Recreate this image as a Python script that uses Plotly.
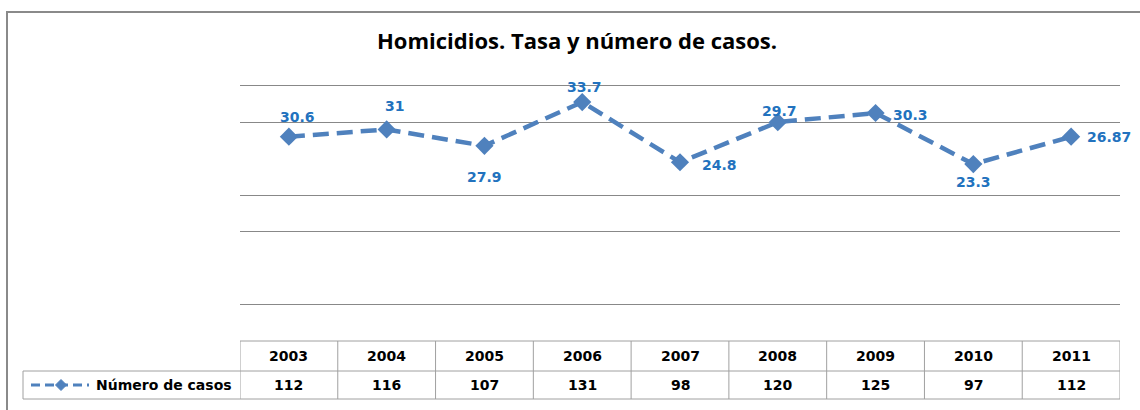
import plotly.graph_objects as go

years = ["2003", "2004", "2005", "2006", "2007", "2008", "2009", "2010", "2011"]
casos = [112, 116, 107, 131, 98, 120, 125, 97, 112]
tasa = ["30.6", "31", "27.9", "33.7", "24.8", "29.7", "30.3", "23.3", "26.87"]
grid_vals = [20, 60, 80, 120, 140]
series_name = "Número de casos"
title_text = "Homicidios. Tasa y número de casos."

# label offsets in pixels (style)
label_dx = [9, 8, 0, 2, 39, 2, 35, 0, 38]
label_dy = [20, 23, -31, 15, -3, 11, -2, -18, 0]

W, H = 1140, 410
L, R, T, B = 240, 20, 82, 69
PH = H - T - B
PW = W - L - R

def py(Y):
    return (H - B - Y) / PH

def px(X):
    return (X - L) / PW

LINE = "#4F81BD"
LBL = "#2272BE"
TBL = "#A0A0A0"
FONT = "DejaVu Sans"

xs = list(range(len(years)))

fig = go.Figure()
fig.add_trace(go.Scatter(
    x=xs, y=casos, mode="lines+markers", name=series_name,
    line=dict(color=LINE, width=4.5, dash="16px,8px"),
    marker=dict(symbol="diamond", size=14, color=LINE),
    showlegend=False, hoverinfo="skip",
))

annotations = []
for i, (v, t) in enumerate(zip(casos, tasa)):
    annotations.append(dict(
        x=i, y=v, xref="x", yref="y", text=t, showarrow=False,
        xshift=label_dx[i], yshift=label_dy[i],
        font=dict(family=FONT, size=14, color=LBL, weight="bold"),
    ))

# title
annotations.append(dict(
    x=px(577), y=py(40), xref="paper", yref="paper",
    text=title_text, showarrow=False,
    xanchor="center", yanchor="middle",
    font=dict(family="Open Sans", size=22, color="black", weight="bold"),
))

# table texts
y_top, y_mid, y_bot = 341, 371, 399
for i, yr in enumerate(years):
    annotations.append(dict(
        x=i, y=py((y_top + y_mid) / 2), xref="x", yref="paper", text=yr,
        showarrow=False, yanchor="middle",
        font=dict(family=FONT, size=14, color="black", weight="bold"),
    ))
    annotations.append(dict(
        x=i, y=py((y_mid + y_bot) / 2), xref="x", yref="paper", text=str(casos[i]),
        showarrow=False, yanchor="middle",
        font=dict(family=FONT, size=14, color="black", weight="bold"),
    ))
# legend text in table
annotations.append(dict(
    x=px(94), y=py((y_mid + y_bot) / 2), xref="paper", yref="paper",
    text=series_name, showarrow=False, xanchor="left", yanchor="middle",
    font=dict(family=FONT, size=14, color="black", weight="bold"),
))

shapes = []
# frame
shapes.append(dict(type="rect", xref="paper", yref="paper",
                   x0=px(7), x1=px(1150), y0=py(420), y1=py(12),
                   line=dict(color="#8A8A8A", width=2), fillcolor="rgba(0,0,0,0)"))
# table horizontal lines
shapes.append(dict(type="line", xref="x", yref="paper", x0=-0.5, x1=8.5,
                   y0=py(y_top), y1=py(y_top), line=dict(color=TBL, width=1)))
for yy in (y_mid, y_bot):
    shapes.append(dict(type="line", xref="paper", yref="paper", x0=px(23), x1=1.0,
                       y0=py(yy), y1=py(yy), line=dict(color=TBL, width=1)))
# table vertical lines
for k in range(len(years) + 1):
    shapes.append(dict(type="line", xref="x", yref="paper", x0=k - 0.5, x1=k - 0.5,
                       y0=py(y_top), y1=py(y_bot), line=dict(color=TBL, width=1)))
shapes.append(dict(type="line", xref="paper", yref="paper", x0=px(23), x1=px(23),
                   y0=py(y_mid), y1=py(y_bot), line=dict(color=TBL, width=1)))
# legend key symbol in table
ym = py((y_mid + y_bot) / 2)
shapes.append(dict(type="line", xref="paper", yref="paper", x0=px(31), x1=px(89),
                   y0=ym, y1=ym, line=dict(color=LINE, width=3, dash="9px,5px")))
dpx = 5.5
dpy = 5.5 / PH
cx = px(61)
dx = dpx / PW
shapes.append(dict(type="path", xref="paper", yref="paper",
                   path=f"M {cx - dx},{ym} L {cx},{ym + dpy} L {cx + dx},{ym} L {cx},{ym - dpy} Z",
                   fillcolor=LINE, line=dict(color=LINE, width=1)))

fig.update_layout(
    width=W, height=H,
    margin=dict(l=L, r=R, t=T, b=B),
    paper_bgcolor="white", plot_bgcolor="white",
    xaxis=dict(range=[-0.5, 8.5], showgrid=False, showticklabels=False,
               zeroline=False, showline=False, ticks=""),
    yaxis=dict(range=[0, 142], tickvals=grid_vals, showticklabels=False,
               showgrid=True, gridcolor="#888888", gridwidth=1,
               zeroline=False, showline=False, ticks=""),
    showlegend=False,
    hovermode=False,
    annotations=annotations,
    shapes=shapes,
)

fig.write_html("out.html", config={"displayModeBar": False, "staticPlot": True},
               post_script="document.body.style.margin='0';document.body.style.overflow='hidden';")
